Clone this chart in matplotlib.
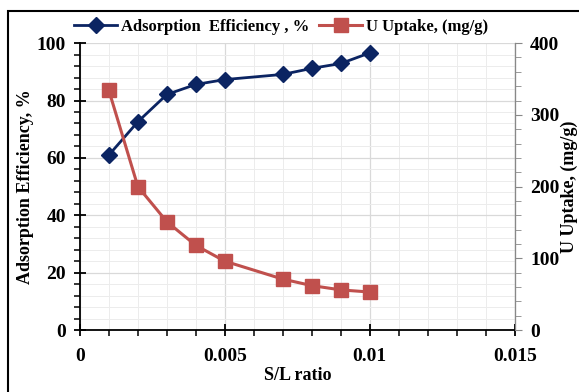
import matplotlib
matplotlib.use("Agg")
import matplotlib.pyplot as plt
from matplotlib.ticker import MultipleLocator
from matplotlib.patches import Rectangle

sl_ratio = [0.001, 0.002, 0.003, 0.004, 0.005, 0.007, 0.008, 0.009, 0.010]
efficiency = [61, 72.6, 82.1, 85.6, 87.3, 89.1, 91.2, 92.9, 96.6]
uptake = [334, 200, 151, 118, 96, 71, 62, 56, 53]

navy = "#0b2462"
red = "#c0504d"
font = "Liberation Serif"

plt.rcParams['font.family'] = [font, 'DejaVu Serif']
plt.rcParams['font.weight'] = 'bold'

fig = plt.figure(figsize=(5.79, 3.92), dpi=100)
ax = fig.add_axes([0.138, 0.158, 0.751, 0.732])
ax2 = ax.twinx()

ax.set_xlim(0, 0.015)
ax.set_ylim(0, 100)
ax2.set_ylim(0, 400)

ax.xaxis.set_major_locator(MultipleLocator(0.005))
ax.xaxis.set_minor_locator(MultipleLocator(0.001))
ax.yaxis.set_major_locator(MultipleLocator(20))
ax.yaxis.set_minor_locator(MultipleLocator(4))
ax2.yaxis.set_major_locator(MultipleLocator(100))
ax2.yaxis.set_minor_locator(MultipleLocator(20))

ax.grid(True, which='major', color='#d9d9d9', lw=0.9)
ax.grid(True, which='minor', color='#ececec', lw=0.7)
ax.set_axisbelow(True)

l1, = ax.plot(sl_ratio, efficiency, color=navy, lw=2, marker='D', ms=8,
              label='Adsorption  Efficiency , %')
l2, = ax2.plot(sl_ratio, uptake, color=red, lw=2.2, marker='s', ms=10,
               label='U Uptake, (mg/g)')

for s in ['top']:
    ax.spines[s].set_visible(False)
    ax2.spines[s].set_visible(False)
ax.spines['left'].set_color('black')
ax.spines['bottom'].set_color('black')
ax.spines['left'].set_linewidth(1.3)
ax.spines['bottom'].set_linewidth(1.3)
ax2.spines['right'].set_color('#888888')
ax2.spines['left'].set_visible(False)
ax2.spines['bottom'].set_visible(False)

ax.tick_params(axis='both', which='major', direction='inout', length=8, width=1.3,
               labelsize=14, pad=6)
ax.tick_params(axis='x', which='major', pad=9)
ax.tick_params(axis='both', which='minor', direction='out', length=4, width=1.1)
ax2.tick_params(axis='y', which='major', direction='out', length=5, color='#888888',
                labelsize=14, pad=6)
ax2.tick_params(axis='y', which='minor', direction='out', length=4, color='#888888')

ax.set_xticks([0, 0.005, 0.01, 0.015])
ax.set_xticklabels(['0', '0.005', '0.01', '0.015'])
for lab in ax.get_xticklabels() + ax.get_yticklabels() + ax2.get_yticklabels():
    lab.set_fontweight('bold')

ax.set_xlabel('S/L ratio', fontsize=13, fontweight='bold', labelpad=1)
ax.set_ylabel('Adsorption Efficiency, %', fontsize=13, fontweight='bold', labelpad=2)
ax2.set_ylabel('U Uptake, (mg/g)', fontsize=13, fontweight='bold', labelpad=1)

fig.legend(handles=[l1, l2], loc='center', bbox_to_anchor=(0.485, 0.932), ncol=2,
           frameon=False, prop={'family': font, 'weight': 'bold', 'size': 12},
           handlelength=2.6, columnspacing=0.6, handletextpad=0.2)

fig.patches.append(Rectangle((8/579, -0.02), 1.0, 1 - 11/392 + 0.02,
                             transform=fig.transFigure, fill=False,
                             edgecolor='black', lw=1.5))

fig.savefig('out.png', dpi=100)
